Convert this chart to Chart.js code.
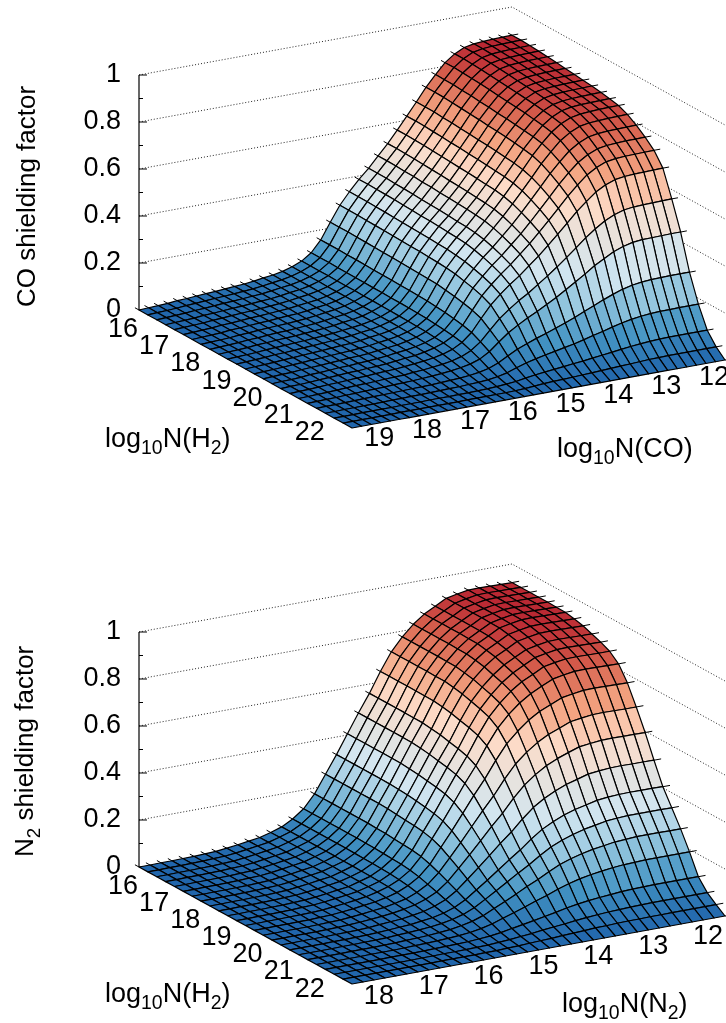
<!DOCTYPE html>
<html>
<head>
<meta charset="utf-8">
<style>
  html, body { margin: 0; background: #fff; }
  canvas { position: absolute; left: 0; }
</style>
<script src="https://cdn.jsdelivr.net/npm/chart.js@4"></script>
</head>
<body>
<canvas id="coChart" width="726" height="467" style="top:0"></canvas>
<canvas id="n2Chart" width="726" height="467" style="top:556px"></canvas>
<script>
// tick labels
var zTicks = [0, 0.2, 0.4, 0.6, 0.8, 1];
var zMinorTicks = [0.1, 0.3, 0.5, 0.7, 0.9];
var h2Ticks = [16, 17, 18, 19, 20, 21, 22];
var coTicks = [19, 18, 17, 16, 15, 14, 13, 12];
var n2Ticks = [18, 17, 16, 15, 14, 13, 12];

// grid of the tables: log10N(H2) of each row, log10N(CO or N2) of each column
var h2Grid = [16, 16.285, 16.57, 16.855, 17.14, 17.425, 17.71, 17.995, 18.28, 18.565, 18.85, 19.135, 19.42, 19.705, 19.99, 20.275, 20.56, 20.845, 21.13, 21.415, 21.7, 21.985, 22.27, 22.555, 22.84];
var coGrid = [12, 12.2, 12.4, 12.6, 12.8, 13, 13.2, 13.4, 13.6, 13.8, 14, 14.2, 14.4, 14.6, 14.8, 15, 15.2, 15.4, 15.6, 15.8, 16, 16.2, 16.4, 16.6, 16.8, 17, 17.2, 17.4, 17.6, 17.8, 18, 18.2, 18.4, 18.6, 18.8, 19, 19.2, 19.4, 19.6, 19.8];
var n2Grid = [12, 12.2, 12.4, 12.6, 12.8, 13, 13.2, 13.4, 13.6, 13.8, 14, 14.2, 14.4, 14.6, 14.8, 15, 15.2, 15.4, 15.6, 15.8, 16, 16.2, 16.4, 16.6, 16.8, 17, 17.2, 17.4, 17.6, 17.8, 18, 18.2, 18.4, 18.6, 18.8];

// shielding factors in thousandths, one row per h2Grid entry
var coShielding = [
  [880,879,878,876,873,865,845,815,772,725,670,617,565,515,470,425,385,340,290,225,157,110,82,65,53,45,40,34,29,26,23,20,18,15,12,10,6,4,2,0],
  [880,879,878,876,873,865,845,815,771,725,670,617,565,515,470,425,385,340,290,225,157,110,82,65,53,45,40,34,29,26,23,20,18,15,12,10,6,4,2,0],
  [878,877,876,874,871,863,843,813,770,724,669,616,564,514,469,424,384,339,289,225,157,110,82,65,53,45,40,34,29,26,23,20,18,15,12,10,6,4,2,0],
  [875,874,873,871,868,860,840,810,767,721,666,613,562,512,467,422,383,338,288,224,156,109,82,65,53,45,40,34,29,26,23,20,18,15,12,10,6,4,2,0],
  [872,871,870,868,865,857,837,808,765,718,664,611,560,510,466,421,382,337,287,223,156,109,81,64,53,45,40,34,29,26,23,20,18,15,12,10,6,4,2,0],
  [868,867,866,864,861,853,833,804,761,715,661,608,557,508,463,419,380,335,286,222,155,108,81,64,52,44,39,34,29,26,23,20,18,15,12,10,6,4,2,0],
  [864,863,862,860,857,849,830,800,758,712,658,606,555,506,462,417,378,334,285,221,154,108,81,64,52,44,39,33,28,26,23,20,18,15,12,10,6,4,2,0],
  [860,859,858,856,853,845,826,796,754,708,655,603,552,503,459,415,376,332,283,220,153,107,80,64,52,44,39,33,28,25,22,20,18,15,12,10,6,4,2,0],
  [856,855,854,852,849,842,822,793,751,705,652,600,550,501,457,414,375,331,282,219,153,107,80,63,52,44,39,33,28,25,22,19,18,15,12,10,6,4,2,0],
  [852,851,850,848,845,837,818,789,747,702,649,597,547,499,455,411,373,329,281,218,152,106,79,63,51,44,39,33,28,25,22,19,17,15,12,10,6,4,2,0],
  [846,845,844,842,839,831,812,783,742,697,644,593,543,495,452,408,370,327,279,216,151,106,79,62,51,43,38,33,28,25,22,19,17,14,12,10,6,4,2,0],
  [840,839,838,837,834,826,807,778,737,692,640,589,540,492,449,406,368,325,277,215,150,105,78,62,51,43,38,32,28,25,22,19,17,14,11,10,6,4,2,0],
  [832,831,830,828,825,817,799,770,730,685,633,583,534,487,444,402,364,321,274,213,148,104,77,61,50,43,38,32,27,25,22,19,17,14,11,9,6,4,2,0],
  [815,814,813,811,808,801,782,755,715,671,620,571,523,477,435,394,357,315,269,208,145,102,76,60,49,42,37,31,27,24,21,19,17,14,11,9,6,4,2,0],
  [790,789,788,787,784,777,759,732,693,651,602,554,507,462,422,382,346,305,260,202,141,99,74,58,48,40,36,31,26,23,21,18,16,13,11,9,5,4,2,0],
  [760,759,759,757,754,747,730,704,667,626,579,533,488,445,406,367,333,294,251,194,136,95,71,56,46,39,35,29,25,22,20,17,16,13,10,9,5,3,2,0],
  [725,724,723,722,719,713,696,672,636,597,552,508,466,424,387,350,317,280,239,185,129,91,68,54,44,37,33,28,24,21,19,16,15,12,10,8,5,3,2,0],
  [670,669,668,667,664,658,643,620,587,552,510,470,430,392,358,323,293,259,221,171,119,84,62,49,40,34,30,26,22,20,18,15,14,11,9,8,5,3,2,0],
  [560,559,558,557,555,550,537,518,491,461,426,392,359,328,299,270,245,216,184,143,100,70,52,41,34,29,25,22,18,17,15,13,11,10,8,6,4,3,1,0],
  [440,440,439,438,437,433,423,408,386,363,335,309,283,258,235,213,193,170,145,113,79,55,41,33,27,23,20,17,15,13,12,10,9,8,6,5,3,2,1,0],
  [290,290,290,289,288,285,279,269,255,239,221,204,186,170,155,140,127,112,96,74,52,36,27,21,17,15,13,11,10,9,8,7,6,5,4,3,2,1,1,0],
  [175,175,175,174,174,172,168,162,154,144,133,123,112,102,94,85,77,68,58,45,31,22,16,13,11,9,8,7,6,5,5,4,4,3,2,2,1,1,0,0],
  [85,85,85,85,85,84,82,79,75,70,65,60,55,50,46,41,37,33,28,22,15,11,8,6,5,4,4,3,3,3,2,2,2,1,1,1,1,0,0,0],
  [35,35,35,35,35,35,34,33,31,29,27,25,23,21,19,17,15,14,12,9,6,4,3,3,2,2,2,1,1,1,1,1,1,1,0,0,0,0,0,0],
  [0,0,0,0,0,0,0,0,0,0,0,0,0,0,0,0,0,0,0,0,0,0,0,0,0,0,0,0,0,0,0,0,0,0,0,0,0,0,0,0]
];
var n2Shielding = [
  [921,922,923,924,923,915,905,880,855,820,775,720,645,560,485,405,325,250,175,120,85,60,45,32,25,18,12,7,5,3,2,1,1,0,0],
  [921,922,923,924,923,915,905,880,855,820,775,720,645,560,485,405,325,250,175,120,85,60,45,32,25,18,12,7,5,3,2,1,1,0,0],
  [921,922,923,924,923,915,905,880,855,820,775,720,645,560,485,405,325,250,175,120,85,60,45,32,25,18,12,7,5,3,2,1,1,0,0],
  [921,922,923,924,923,915,905,880,855,820,775,720,645,560,485,405,325,250,175,120,85,60,45,32,25,18,12,7,5,3,2,1,1,0,0],
  [921,922,923,924,923,915,905,880,855,820,775,720,645,560,485,405,325,250,175,120,85,60,45,32,25,18,12,7,5,3,2,1,1,0,0],
  [920,921,922,923,922,914,904,879,854,819,774,719,644,559,485,405,325,250,175,120,85,60,45,32,25,18,12,7,5,3,2,1,1,0,0],
  [919,920,921,922,921,913,903,878,853,818,773,719,644,559,484,404,324,250,175,120,85,60,45,32,25,18,12,7,5,3,2,1,1,0,0],
  [912,913,914,915,914,906,896,871,846,812,767,713,639,554,480,401,322,248,173,119,84,59,45,32,25,18,12,7,5,3,2,1,1,0,0],
  [903,904,905,906,905,897,887,862,838,804,760,706,632,549,475,397,319,245,172,118,83,59,44,31,25,18,12,7,5,3,2,1,1,0,0],
  [889,890,891,892,891,883,873,849,825,791,748,695,622,540,468,391,314,241,169,116,82,58,43,31,24,17,12,7,5,3,2,1,1,0,0],
  [875,876,877,878,877,869,860,836,812,779,736,684,613,532,461,385,309,238,166,114,81,57,43,30,24,17,11,7,5,3,2,1,1,0,0],
  [857,857,858,859,858,851,842,818,795,763,721,670,600,521,451,377,302,233,163,112,79,56,42,30,23,17,11,7,5,3,2,1,1,0,0],
  [824,825,826,827,826,819,810,788,765,734,694,644,577,501,434,362,291,224,157,107,76,54,40,29,22,16,11,6,4,3,2,1,1,0,0],
  [764,765,766,767,766,759,751,730,710,681,643,598,535,465,403,336,270,208,145,100,71,50,37,27,21,15,10,6,4,2,2,1,1,0,0],
  [682,682,683,684,683,677,670,651,633,607,574,533,477,414,359,300,241,185,130,89,63,44,33,24,19,13,9,5,4,2,1,1,1,0,0],
  [594,595,595,596,595,590,584,568,551,529,500,464,416,361,313,261,210,161,113,77,55,39,29,21,16,12,8,5,3,2,1,1,1,0,0],
  [497,498,498,499,498,494,489,475,462,443,419,389,348,302,262,219,176,135,95,65,46,32,24,17,14,10,6,4,3,2,1,1,1,0,0],
  [405,406,406,407,406,403,398,387,376,361,341,317,284,246,213,178,143,110,77,53,37,26,20,14,11,8,5,3,2,1,1,0,0,0,0],
  [336,337,337,337,337,334,330,321,312,299,283,263,235,204,177,148,119,91,64,44,31,22,16,12,9,7,4,3,2,1,1,0,0,0,0],
  [267,267,268,268,268,265,262,255,248,238,225,209,187,162,141,117,94,73,51,35,25,17,13,9,7,5,3,2,1,1,1,0,0,0,0],
  [190,190,190,190,190,188,186,182,176,169,160,148,133,115,100,83,67,52,36,25,17,12,9,7,5,4,2,1,1,1,0,0,0,0,0],
  [105,105,105,105,105,104,103,101,97,93,88,82,74,64,55,46,37,29,20,14,10,7,5,4,3,2,1,1,1,0,0,0,0,0,0],
  [58,58,58,58,58,58,57,56,54,52,49,45,41,35,31,26,20,16,11,8,5,4,3,2,2,1,1,0,0,0,0,0,0,0,0],
  [28,28,28,28,28,27,27,26,26,25,23,22,19,17,15,12,10,8,5,4,2,2,1,1,1,1,0,0,0,0,0,0,0,0,0],
  [0,0,0,0,0,0,0,0,0,0,0,0,0,0,0,0,0,0,0,0,0,0,0,0,0,0,0,0,0,0,0,0,0,0,0]
];

// RdBu palette, spread over 0 .. top of each colour range
var paletteColors = ['#2166ac', '#4393c3', '#92c5de', '#d1e5f0', '#e6e3df', '#fddbc7', '#f4a582', '#d6604d', '#b2182b'];
var FONT = '"Liberation Sans", Helvetica, Arial, sans-serif';

// text and view settings of each chart, by canvas id
var panels = {};

function hexToRgb(hex) {
    return [parseInt(hex.substr(1, 2), 16), parseInt(hex.substr(3, 2), 16), parseInt(hex.substr(5, 2), 16)];
}

function paletteColor(z, top) {
    var t = Math.min(z / top, 1) * (paletteColors.length - 1);
    var i = Math.min(Math.floor(t), paletteColors.length - 2);
    var a = hexToRgb(paletteColors[i]);
    var b = hexToRgb(paletteColors[i + 1]);
    var f = t - i;
    return 'rgb(' + a.map(function(v, n) { return Math.round(v + (b[n] - v) * f); }).join(',') + ')';
}

// write text with <sub> style parts along the baseline
function drawRich(ctx, parts, size) {
    var x = 0;
    parts.forEach(function(part) {
        var fontSize = part.sub ? size * 0.72 : size;
        ctx.font = fontSize + 'px ' + FONT;
        ctx.fillText(part.text, x, part.sub ? size * 0.27 : 0);
        x += ctx.measureText(part.text).width;
    });
}

// draws the surface cells back to front from the parsed points of the dataset
var surfacePlugin = {
    id: 'surfaceMesh',
    afterDatasetDraw: function(chart, args) {
        var dataset = chart.data.datasets[args.index];
        if (!dataset.surfaceValues) return;
        var ctx = chart.ctx;
        var points = args.meta.data;
        var rows = dataset.surfaceValues;
        var cols = rows[0].length;
        var top = panels[chart.canvas.id].colorTop;
        ctx.save();
        ctx.lineWidth = 1.2;
        ctx.lineJoin = 'round';
        ctx.strokeStyle = '#000';
        for (var j = 0; j < rows.length - 1; j++) {
            for (var k = 0; k < cols - 1; k++) {
                var a = points[j * cols + k];
                var b = points[j * cols + k + 1];
                var c = points[(j + 1) * cols + k + 1];
                var d = points[(j + 1) * cols + k];
                var mean = (rows[j][k] + rows[j][k + 1] + rows[j + 1][k + 1] + rows[j + 1][k]) / 4000;
                ctx.beginPath();
                ctx.moveTo(a.x, a.y);
                ctx.lineTo(b.x, b.y);
                ctx.lineTo(c.x, c.y);
                ctx.lineTo(d.x, d.y);
                ctx.closePath();
                ctx.fillStyle = paletteColor(mean, top);
                ctx.fill();
                ctx.stroke();
            }
        }
        ctx.restore();
    },
    afterDraw: function(chart) {
        var panel = panels[chart.canvas.id];
        var ctx = chart.ctx;
        var xs = chart.scales.x;
        var ys = chart.scales.y;
        ctx.save();
        ctx.fillStyle = '#000';
        ctx.textAlign = 'center';
        ctx.textBaseline = 'middle';
        ctx.font = panel.fontSize + 'px ' + FONT;
        panel.h2Ticks.forEach(function(tick) {
            var p = panel.project(tick, panel.columnMax, 0);
            ctx.fillText(String(tick), xs.getPixelForValue(p.x) - 16, ys.getPixelForValue(p.y) + 19.5);
        });
        panel.columnTicks.forEach(function(tick) {
            var p = panel.project(panel.h2Max, tick, 0);
            ctx.fillText(String(tick), xs.getPixelForValue(p.x) + panel.columnLabelOffset[0], ys.getPixelForValue(p.y) + panel.columnLabelOffset[1]);
        });
        ctx.textAlign = 'left';
        ctx.textBaseline = 'alphabetic';
        panel.titles.forEach(function(title) {
            ctx.save();
            ctx.translate(title.x, title.y);
            if (title.rotated) ctx.rotate(-Math.PI / 2);
            drawRich(ctx, title.parts, title.rotated ? 26 : panel.fontSize);
            ctx.restore();
        });
        ctx.restore();
    }
};

function buildPanel(canvasId, values, columnGrid, columnTicks, zeroY, frontDrop, colorTop, titles, columnLabelOffset) {
    var H = 467;
    var zPx = 235;
    var h2Max = h2Grid[h2Grid.length - 1];
    var columnMax = columnGrid[columnGrid.length - 1];
    var columnMin = columnGrid[0];

    // oblique view of the box, in x pixels and z units
    function project(h2, col, z) {
        var u = (h2 - 16) / (h2Max - 16);
        var v = (columnMax - col) / (columnMax - columnMin);
        return { x: u * 213 + v * 373, y: z - u * frontDrop / zPx + v * 68 / zPx };
    }

    panels[canvasId] = {
        project: project,
        fontSize: 27,
        colorTop: colorTop,
        h2Ticks: h2Ticks,
        h2Max: h2Max,
        columnMax: columnMax,
        columnTicks: columnTicks,
        columnLabelOffset: columnLabelOffset,
        titles: titles
    };

    var nodes = [];
    values.forEach(function(row, j) {
        row.forEach(function(value, k) {
            nodes.push(project(h2Grid[j], columnGrid[k], value / 1000));
        });
    });

    // short stubs where the mesh lines run past the back edges
    var stubs = [];
    h2Grid.forEach(function(h2, j) {
        stubs.push(project(h2, columnMin, values[j][0] / 1000));
        stubs.push(project(h2, columnMin - 0.13, values[j][0] / 1000));
        stubs.push({ x: null, y: null });
    });
    columnGrid.forEach(function(col, k) {
        stubs.push(project(16, col, values[0][k] / 1000));
        stubs.push(project(15.87, col, values[0][k] / 1000));
        stubs.push({ x: null, y: null });
    });

    var zTickMarks = [];
    zTicks.forEach(function(z) {
        zTickMarks.push({ x: 0, y: z }, { x: 8, y: z }, { x: null, y: null });
    });
    zMinorTicks.forEach(function(z) {
        zTickMarks.push({ x: 0, y: z }, { x: 4, y: z }, { x: null, y: null });
    });

    var datasets = [{
        label: 'surface',
        data: nodes,
        surfaceValues: values,
        pointRadius: 0,
        showLine: false,
        clip: false
    }, {
        label: 'edge stubs',
        data: stubs,
        borderColor: '#000',
        borderWidth: 1,
        pointRadius: 0,
        showLine: true,
        spanGaps: false,
        clip: false
    }, {
        label: 'z axis',
        data: [project(16, columnMax, 0), project(16, columnMax, 1)],
        borderColor: '#000',
        borderWidth: 1.2,
        pointRadius: 0,
        showLine: true,
        clip: false
    }, {
        label: 'z ticks',
        data: zTickMarks,
        borderColor: '#000',
        borderWidth: 1,
        pointRadius: 0,
        showLine: true,
        spanGaps: false,
        clip: false
    }];

    zTicks.slice(1).forEach(function(z) {
        datasets.push({
            label: 'wall ' + z,
            data: [project(16, columnMax, z), project(16, columnMin, z), project(h2Max, columnMin, z)],
            borderColor: '#222',
            borderWidth: 1,
            borderDash: [1, 2],
            pointRadius: 0,
            showLine: true,
            tension: 0,
            clip: false
        });
    });

    return new Chart(document.getElementById(canvasId), {
        type: 'scatter',
        data: { datasets: datasets },
        plugins: [surfacePlugin],
        options: {
            responsive: false,
            animation: false,
            layout: { padding: 0 },
            plugins: {
                legend: { display: false },
                tooltip: { enabled: false }
            },
            scales: {
                x: { type: 'linear', display: false, min: 0, max: 587 },
                y: {
                    type: 'linear',
                    min: -(H - zeroY) / zPx,
                    max: zeroY / zPx,
                    border: { display: false },
                    grid: { display: false, drawTicks: false },
                    afterBuildTicks: function(scale) {
                        scale.ticks = zTicks.map(function(v) { return { value: v }; });
                    },
                    afterFit: function(scale) {
                        scale.width = 139;
                        scale.paddingTop = 0;
                        scale.paddingBottom = 0;
                    },
                    ticks: {
                        color: '#000',
                        padding: 18,
                        autoSkip: false,
                        maxRotation: 0,
                        font: { family: FONT, size: 27 },
                        callback: function(value) { return String(value); }
                    }
                }
            }
        }
    });
}

buildPanel('coChart', coShielding, coGrid, coTicks, 310, 118, 0.9, [
    { x: 35, y: 307, rotated: true, parts: [{ text: 'CO shielding factor' }] },
    { x: 105, y: 447, parts: [{ text: 'log' }, { text: '10', sub: true }, { text: 'N(H' }, { text: '2', sub: true }, { text: ')' }] },
    { x: 557, y: 457, parts: [{ text: 'log' }, { text: '10', sub: true }, { text: 'N(CO)' }] }
], [-11, 18]);

buildPanel('n2Chart', n2Shielding, n2Grid, n2Ticks, 311, 117, 0.95, [
    { x: 33, y: 301, rotated: true, parts: [{ text: 'N' }, { text: '2', sub: true }, { text: ' shielding factor' }] },
    { x: 105, y: 446, parts: [{ text: 'log' }, { text: '10', sub: true }, { text: 'N(H' }, { text: '2', sub: true }, { text: ')' }] },
    { x: 562, y: 456, parts: [{ text: 'log' }, { text: '10', sub: true }, { text: 'N(N' }, { text: '2', sub: true }, { text: ')' }] }
], [-17, 20.5]);
</script>
</body>
</html>
